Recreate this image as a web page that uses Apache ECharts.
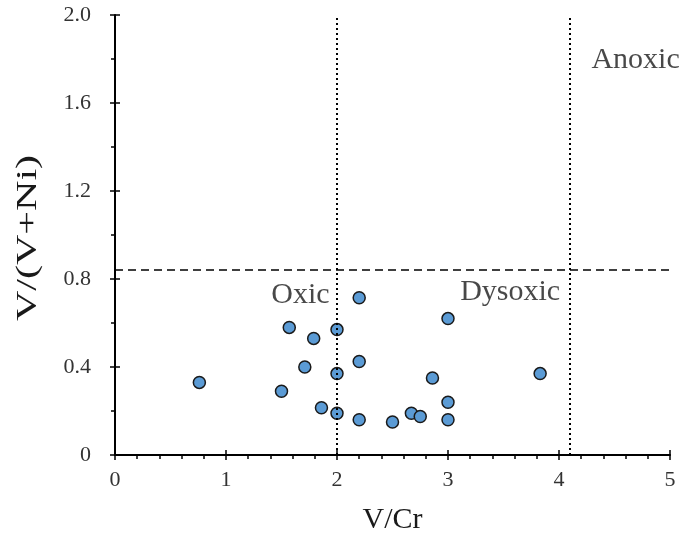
<!DOCTYPE html>
<html>
<head>
<meta charset="utf-8">
<script src="https://cdn.jsdelivr.net/npm/echarts@6/dist/echarts.min.js"></script>
<style>
  html, body { margin: 0; padding: 0; background: #fff; }
  #chart { width: 684px; height: 534px; }
</style>
</head>
<body>
<div id="chart"></div>
<script>
// V/Cr vs V/(V+Ni) samples
const vCr = [0.76, 1.57, 1.79, 2.0, 2.2, 1.71, 2.2, 2.0, 1.5, 1.86, 2.0, 2.2, 2.5, 2.67, 2.75, 3.0, 3.0, 2.86, 3.0, 3.83]
const vVNi = [0.33, 0.58, 0.53, 0.57, 0.715, 0.40, 0.425, 0.37, 0.29, 0.215, 0.19, 0.16, 0.15, 0.19, 0.175, 0.16, 0.24, 0.35, 0.62, 0.37]

// boundary lines and zone labels
const oxicLimit = 2
const anoxicLimit = 4.1
const ratioLimit = 0.84
const zones = [
  { name: 'Oxic', x: 1.67, y: 0.725 },
  { name: 'Dysoxic', x: 3.56, y: 0.74 },
  { name: 'Anoxic', x: 4.69, y: 1.795 }
]

const serif = '"Liberation Serif", "Times New Roman", serif'
const chart = echarts.init(document.getElementById('chart'))

const baseAxis = {
  axisLine: { show: true, onZero: false, lineStyle: { color: '#000', width: 2 } },
  splitLine: { show: false }
}

chart.setOption({
  animation: false,
  grid: { left: 115, right: 14, top: 15, bottom: 79, outerBoundsMode: 'none', containLabel: false },
  xAxis: [
    {
      ...baseAxis,
      type: 'value', min: 0, max: 5, interval: 1, position: 'bottom',
      axisTick: { show: true, inside: false, length: 5, lineStyle: { color: '#000', width: 1.5 } },
      minorTick: { show: true, splitNumber: 5, length: 4, lineStyle: { color: '#000', width: 1.5 } },
      axisLabel: { margin: 14, fontFamily: serif, fontSize: 22, color: '#333' },
      name: 'V/Cr', nameLocation: 'middle', nameGap: 50,
      nameTextStyle: { fontFamily: serif, fontSize: 30, color: '#1a1a1a' }
    },
    {
      type: 'value', min: 0, max: 5, interval: 1, position: 'bottom',
      axisLine: { show: false }, splitLine: { show: false }, axisLabel: { show: false },
      axisTick: { show: true, inside: true, length: 5, lineStyle: { color: '#000', width: 1.5 } }
    }
  ],
  yAxis: [
    {
      ...baseAxis,
      type: 'value', min: 0, max: 2, interval: 0.4, position: 'left',
      axisTick: { show: true, inside: false, length: 5, lineStyle: { color: '#000', width: 1.5 } },
      minorTick: { show: true, splitNumber: 2, length: 4, lineStyle: { color: '#000', width: 1.5 } },
      axisLabel: {
        margin: 24, fontFamily: serif, fontSize: 22, color: '#333',
        formatter: v => (v === 0 ? '0' : v.toFixed(1))
      }
    },
    {
      type: 'value', min: 0, max: 2, interval: 0.4, position: 'left',
      axisLine: { show: false }, splitLine: { show: false }, axisLabel: { show: false },
      axisTick: { show: true, inside: true, length: 5, lineStyle: { color: '#000', width: 1.5 } }
    }
  ],
  graphic: [
    {
      type: 'text', x: 28, y: 238, rotation: Math.PI / 2, scaleX: 1.45,
      style: {
        text: 'V/(V+Ni)', font: '29px ' + serif, fill: '#1a1a1a',
        textAlign: 'center', textVerticalAlign: 'middle'
      }
    }
  ],
  series: [
    {
      type: 'scatter',
      data: vCr.map((x, i) => [x, vVNi[i]]),
      symbol: 'circle', symbolSize: 12,
      itemStyle: { color: '#5b9bd5', borderColor: '#1a1a1a', borderWidth: 1.5, opacity: 1 },
      markLine: {
        silent: true, symbol: 'none', animation: false,
        label: { show: false },
        data: [
          [{ coord: [oxicLimit, 0] }, { coord: [oxicLimit, 2] }],
          [{ coord: [anoxicLimit, 0] }, { coord: [anoxicLimit, 2] }]
        ],
        lineStyle: { color: '#000', width: 2, type: [2, 3] }
      },
      z: 3
    },
    {
      type: 'scatter',
      data: [],
      markLine: {
        silent: true, symbol: 'none', animation: false,
        label: { show: false },
        data: [[{ coord: [0, ratioLimit] }, { coord: [5, ratioLimit] }]],
        lineStyle: { color: '#000', width: 1.5, type: [8, 5] }
      }
    },
    {
      type: 'scatter',
      data: zones.map(z => ({ name: z.name, value: [z.x, z.y] })),
      symbolSize: 0,
      silent: true,
      label: {
        show: true, position: 'inside', formatter: p => p.name,
        fontFamily: serif, fontSize: 30, color: '#1a1a1a'
      }
    }
  ]
})
</script>
</body>
</html>
